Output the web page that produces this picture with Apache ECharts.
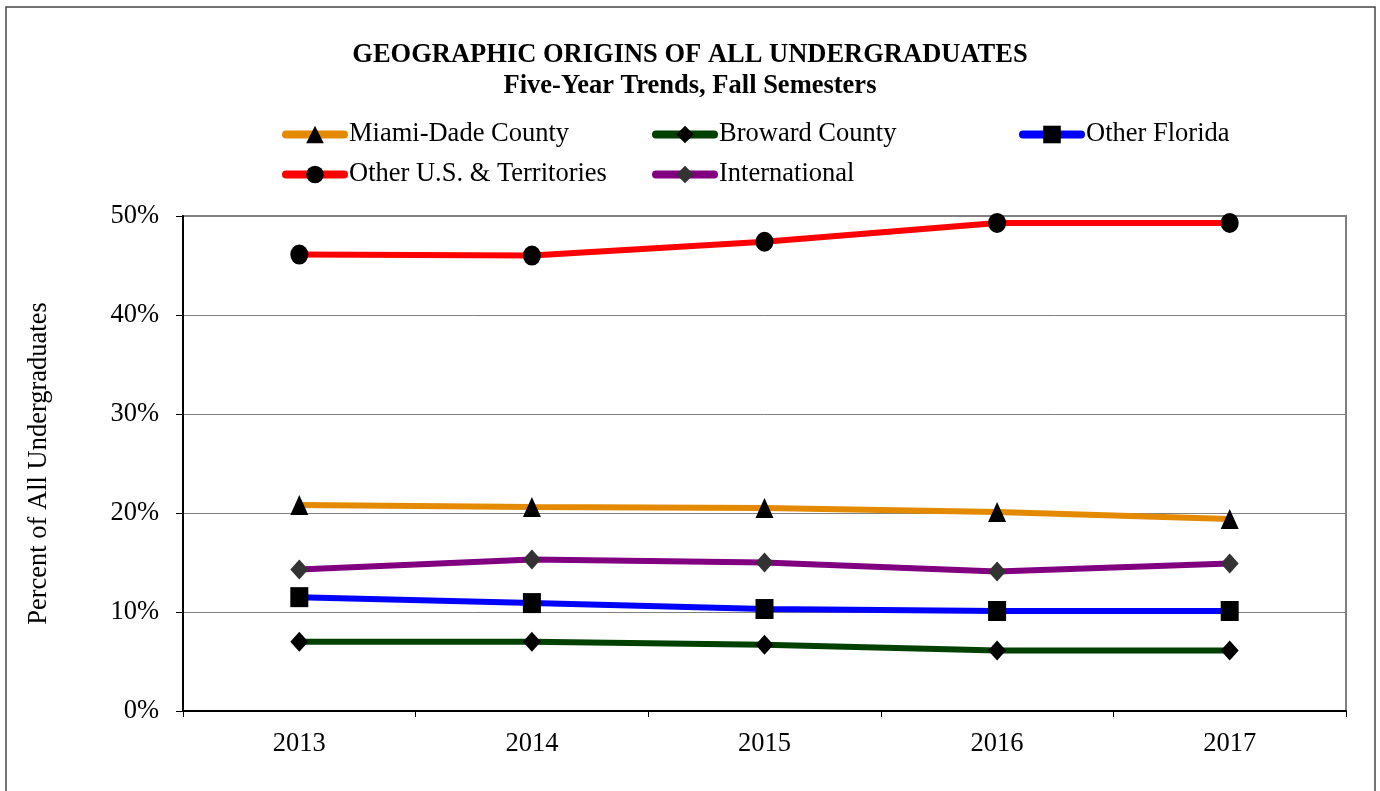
<!DOCTYPE html>
<html>
<head>
<meta charset="utf-8">
<title>Geographic Origins of All Undergraduates</title>
<script src="https://cdn.jsdelivr.net/npm/echarts@6/dist/echarts.min.js"></script>
<style>
  html, body { margin: 0; padding: 0; background: #fff; }
  #chart { width: 1380px; height: 791px; }
</style>
</head>
<body>
<div id="chart"></div>
<script>
// data (percent of all undergraduates)
const years = ["2013", "2014", "2015", "2016", "2017"];
const miamiDade = [20.8, 20.6, 20.5, 20.1, 19.4];
const broward = [7.0, 7.0, 6.7, 6.1, 6.1];
const otherFlorida = [11.5, 10.9, 10.3, 10.1, 10.1];
const otherUS = [46.1, 46.0, 47.4, 49.3, 49.3];
const international = [14.3, 15.3, 15.0, 14.1, 14.9];
const yTicks = [0, 10, 20, 30, 40, 50];

const FONT = "'Liberation Serif', 'Times New Roman', serif";
const FS = 26.5;

function lineSeries(name, data, color, symbol, markColor) {
  return {
    name: name,
    type: "line",
    data: data,
    symbol: symbol,
    symbolSize: [18, 20],
    lineStyle: { color: color, width: 6 },
    itemStyle: { color: markColor || "#000" },
    z: 3,
  };
}

function legendAt(name, left, top) {
  return {
    data: [name],
    left: left,
    top: top,
    padding: 0,
    itemWidth: 58,
    itemHeight: 22,
    selectedMode: false,
    lineStyle: { width: 8, cap: "round" },
    textStyle: { fontFamily: FONT, fontSize: FS, color: "#000" },
  };
}

const chart = echarts.init(document.getElementById("chart"));
chart.setOption({
  animation: false,
  backgroundColor: "#fff",
  title: [
    {
      text: "GEOGRAPHIC ORIGINS OF ALL UNDERGRADUATES",
      left: "center",
      top: 42,
      padding: 0,
      textStyle: { fontFamily: FONT, fontSize: FS, fontWeight: "bold", color: "#000" },
    },
    {
      text: "Five-Year Trends, Fall Semesters",
      left: "center",
      top: 73,
      padding: 0,
      textStyle: { fontFamily: FONT, fontSize: FS, fontWeight: "bold", color: "#000" },
    },
  ],
  legend: [
    legendAt("Miami-Dade County", 282, 121),
    legendAt("Broward County", 652, 121),
    legendAt("Other Florida", 1019, 121),
    legendAt("Other U.S. & Territories", 282, 161),
    legendAt("International", 652, 161),
  ],
  graphic: [
    {
      type: "rect",
      shape: { x: 6, y: 7, width: 1369, height: 800 },
      style: { fill: "none", stroke: "#444", lineWidth: 1.5 },
      silent: true,
    },
  ],
  grid: {
    left: 183,
    top: 216,
    width: 1163,
    height: 495,
    show: true,
    borderColor: "#808080",
    borderWidth: 2,
  },
  xAxis: {
    type: "category",
    data: years,
    boundaryGap: true,
    axisLine: { lineStyle: { color: "#000", width: 2 } },
    axisTick: { show: true, length: 6, lineStyle: { color: "#000" } },
    axisLabel: { fontFamily: FONT, fontSize: FS, color: "#000", margin: 20 },
  },
  yAxis: {
    type: "value",
    min: yTicks[0],
    max: yTicks[yTicks.length - 1],
    interval: 10,
    name: "Percent of All Undergraduates",
    nameLocation: "middle",
    nameRotate: 90,
    nameGap: 130,
    nameTextStyle: { fontFamily: FONT, fontSize: FS, color: "#000" },
    axisLine: { show: true, lineStyle: { color: "#000", width: 2 } },
    axisTick: { show: true, length: 7, lineStyle: { color: "#000" } },
    axisLabel: {
      fontFamily: FONT,
      fontSize: FS,
      color: "#000",
      margin: 24,
      formatter: "{value}%",
    },
    splitLine: { show: true, lineStyle: { color: "#808080", width: 1 } },
  },
  series: [
    lineSeries("Miami-Dade County", miamiDade, "#E38A00", "triangle"),
    lineSeries("Broward County", broward, "#004000", "diamond"),
    lineSeries("Other Florida", otherFlorida, "#0000FF", "rect"),
    lineSeries("Other U.S. & Territories", otherUS, "#FF0000", "circle"),
    lineSeries("International", international, "#800080", "diamond", "#333333"),
  ],
});
</script>
</body>
</html>
